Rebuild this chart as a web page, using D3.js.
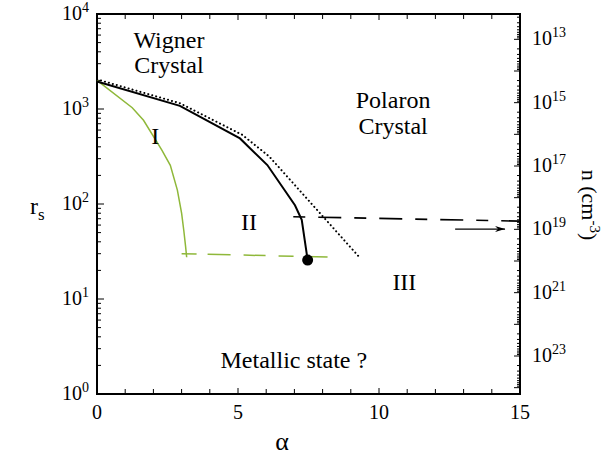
<!DOCTYPE html>
<html>
<head>
<meta charset="utf-8">
<script src="https://cdn.jsdelivr.net/npm/d3@7"></script>
<style>
  body { margin: 0; background: #fff; }
  svg text { font-family: "Liberation Serif", "Times New Roman", serif; fill: #000; }
</style>
</head>
<body>
<div id="chart"></div>
<script>
// alpha axis
const alphaTicks = d3.range(0, 16, 1)
const alphaLabels = [0, 5, 10, 15]

// r_s axis (log)
const rsLabelExp = [0, 1, 2, 3, 4]

// n axis (cm^-3), n ~ rs^-3
const nLabelExp = [13, 15, 17, 19, 21, 23]
const nDomainExp = [12.2, 24.2]

// phase boundaries: [alpha, rs]
const boundaryI = [[0, 2000], [1.25, 1030], [1.65, 760], [2.3, 370], [2.6, 255], [2.85, 140],
  [3.0, 80], [3.08, 52], [3.14, 36], [3.18, 27.5]]
const boundaryIDashed = [[3.0, 30], [8.5, 27.5]]
const boundaryII = [[0, 1950], [2.94, 1080], [5.07, 490], [6.04, 257], [7.02, 97], [7.26, 68], [7.47, 25.7]]
const boundaryIIDotted = [[0, 2050], [2.94, 1150], [5.15, 535], [6.1, 318], [9.33, 27]]
const boundaryIIIDashed = [[6.96, 73.5], [15, 66]]
const endPoint = [7.47, 25.7]
const arrowLine = [[12.7, 54.5], [14.47, 54.5]]

const phaseLabels = [
  { text: 'Wigner', a: 2.55, rs: 4400 },
  { text: 'Crystal', a: 2.55, rs: 2400 },
  { text: 'Polaron', a: 10.5, rs: 1020 },
  { text: 'Crystal', a: 10.5, rs: 546 },
  { text: 'I', a: 2.07, rs: 428 },
  { text: 'II', a: 5.39, rs: 53 },
  { text: 'III', a: 10.9, rs: 12.4 },
  { text: 'Metallic state ?', a: 6.98, rs: 1.88 }
]

const width = 609
const height = 457
const margin = { top: 14, right: 89, bottom: 63, left: 97 }

const svg = d3.select('#chart')
  .append('svg')
  .attr('width', width)
  .attr('height', height)

const x = d3.scaleLinear().domain([0, 15]).range([margin.left, width - margin.right])
const y = d3.scaleLog().domain([1, 1e4]).range([height - margin.bottom, margin.top])
const yN = d3.scaleLog().domain(nDomainExp.map((e) => Math.pow(10, e))).range([margin.top, height - margin.bottom])

const x0 = x.range()[0]
const x1 = x.range()[1]
const y0 = y.range()[0]
const y1 = y.range()[1]

const minorLog = (scale) => {
  const [a, b] = scale.domain().map((v) => Math.log10(v))
  const lo = Math.floor(Math.min(a, b))
  const hi = Math.ceil(Math.max(a, b))
  const out = []
  for (let e = lo; e <= hi; e++) {
    for (let m = 1; m < 10; m++) {
      const v = m * Math.pow(10, e)
      const p = scale(v)
      if (p >= margin.top - 0.5 && p <= y0 + 0.5) out.push({ v, major: m === 1 })
    }
  }
  return out
}

const ticks = svg.append('g').attr('stroke', '#000').attr('stroke-width', 1)

// bottom + top alpha ticks
alphaTicks.forEach((t) => {
  const len = t % 5 === 0 ? 6 : 5
  ticks.append('line').attr('x1', x(t)).attr('x2', x(t)).attr('y1', y0).attr('y2', y0 - len)
  ticks.append('line').attr('x1', x(t)).attr('x2', x(t)).attr('y1', y1).attr('y2', y1 + len)
})

// left rs ticks
minorLog(y).forEach((t) => {
  const len = t.major ? 7 : 4
  ticks.append('line').attr('x1', x0).attr('x2', x0 + len).attr('y1', y(t.v)).attr('y2', y(t.v))
})

// right n ticks
minorLog(yN).forEach((t) => {
  const len = t.major ? 6 : 3
  ticks.append('line').attr('x1', x1).attr('x2', x1 - len).attr('y1', yN(t.v)).attr('y2', yN(t.v))
})

// frame
svg.append('rect')
  .attr('x', x0).attr('y', y1)
  .attr('width', x1 - x0).attr('height', y0 - y1)
  .attr('fill', 'none').attr('stroke', '#000').attr('stroke-width', 2)

// tick labels
const powLabel = (g, exp, px, py, anchor) => {
  const t = g.append('text')
    .attr('x', px).attr('y', py)
    .attr('text-anchor', anchor)
    .style('font-size', '20px')
  t.append('tspan').text('10')
  t.append('tspan').attr('dy', -8).style('font-size', '14px').text(exp)
}

const labelsG = svg.append('g')
rsLabelExp.forEach((e) => powLabel(labelsG, e, x0 - 8, y(Math.pow(10, e)) + 6, 'end'))
nLabelExp.forEach((e) => powLabel(labelsG, e, x1 + 12, yN(Math.pow(10, e)) + 6, 'start'))

alphaLabels.forEach((t) => {
  labelsG.append('text')
    .attr('x', x(t)).attr('y', y0 + 25)
    .attr('text-anchor', 'middle')
    .style('font-size', '20px')
    .text(t)
})

// axis titles
svg.append('text')
  .attr('x', 282).attr('y', 450)
  .attr('text-anchor', 'middle')
  .style('font-size', '26px')
  .text('α')

const rsTitle = svg.append('text')
  .attr('x', 30).attr('y', 214)
  .style('font-size', '24px')
rsTitle.append('tspan').text('r')
rsTitle.append('tspan').attr('dy', 6).style('font-size', '17px').text('s')

const nTitle = svg.append('text')
  .attr('transform', 'translate(582, 205) rotate(90)')
  .attr('text-anchor', 'middle')
  .style('font-size', '22px')
nTitle.append('tspan').text('n (cm')
nTitle.append('tspan').attr('dy', -8).style('font-size', '15px').text('-3')
nTitle.append('tspan').attr('dy', 8).text(')')

// curves
const line = d3.line().x((d) => x(d[0])).y((d) => y(d[1]))

svg.append('path')
  .attr('d', line(boundaryI))
  .attr('fill', 'none').attr('stroke', '#8fb83a').attr('stroke-width', 1.5)

svg.append('path')
  .attr('d', line(boundaryIDashed))
  .attr('fill', 'none').attr('stroke', '#8fb83a').attr('stroke-width', 1.5)
  .attr('stroke-dasharray', '15,11,23,13,22,13')

svg.append('path')
  .attr('d', line(boundaryIIDotted))
  .attr('fill', 'none').attr('stroke', '#000').attr('stroke-width', 2)
  .attr('stroke-linecap', 'round')
  .attr('stroke-dasharray', '0.1,4')

svg.append('path')
  .attr('d', line(boundaryII))
  .attr('fill', 'none').attr('stroke', '#000').attr('stroke-width', 2)

svg.append('path')
  .attr('d', line(boundaryIIIDashed))
  .attr('fill', 'none').attr('stroke', '#000').attr('stroke-width', 1.6)
  .attr('stroke-dasharray', '12,13,23,13')

svg.append('circle')
  .attr('cx', x(endPoint[0])).attr('cy', y(endPoint[1]))
  .attr('r', 5.5)
  .attr('fill', '#000')

// arrow
svg.append('defs').append('marker')
  .attr('id', 'head')
  .attr('viewBox', '0 0 10 6')
  .attr('refX', 10).attr('refY', 3)
  .attr('markerUnits', 'userSpaceOnUse')
  .attr('markerWidth', 11).attr('markerHeight', 6)
  .attr('orient', 'auto')
  .append('path')
  .attr('d', 'M0,0 L10,3 L0,6 L3,3 Z')
  .attr('fill', '#000')

svg.append('path')
  .attr('d', line(arrowLine))
  .attr('stroke', '#000').attr('stroke-width', 1.2)
  .attr('marker-end', 'url(#head)')

// phase labels
svg.append('g')
  .selectAll('text')
  .data(phaseLabels)
  .join('text')
  .attr('x', (d) => x(d.a))
  .attr('y', (d) => y(d.rs))
  .attr('text-anchor', 'middle')
  .style('font-size', '24px')
  .text((d) => d.text)
</script>
</body>
</html>
